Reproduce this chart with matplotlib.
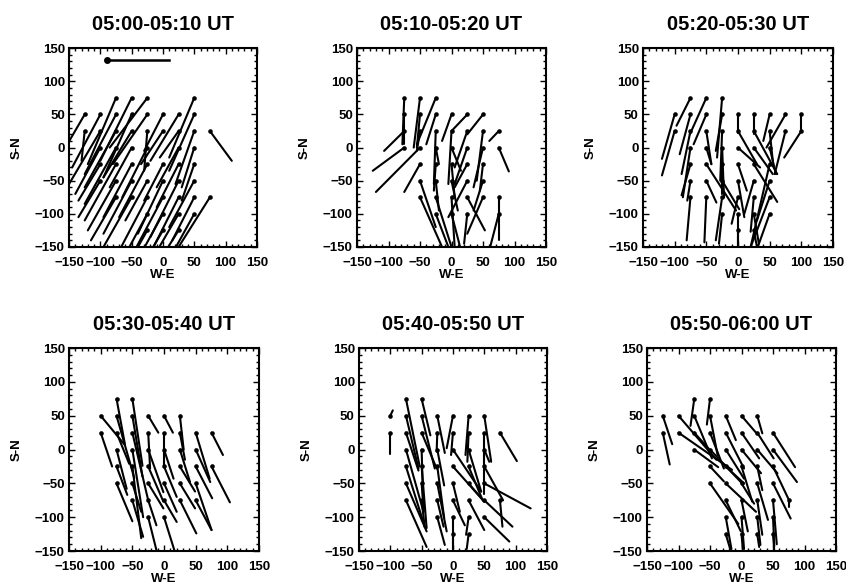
import numpy as np
import matplotlib
matplotlib.use('Agg')
import matplotlib.pyplot as plt
from matplotlib.ticker import MultipleLocator

plt.rcParams['font.family'] = ['Liberation Sans', 'DejaVu Sans']
plt.rcParams['font.weight'] = 'bold'

titles = ['05:00-05:10 UT', '05:10-05:20 UT', '05:20-05:30 UT',
          '05:30-05:40 UT', '05:40-05:50 UT', '05:50-06:00 UT']

# reference vector (start x, start y, u, v) in panel 1
ref_vec = (-90, 132, 100, 0)

# vectors: (x, y, u, v)
vec1 = [
    (-75, 75, -45, -100), (-50, 75, -50, -95), (-25, 75, -60, -75), (50, 75, -40, -90),
    (-125, 50, -40, -65), (-100, 50, -45, -80), (-75, 50, -50, -90), (-50, 50, -45, -95),
    (-25, 50, -55, -75), (0, 50, -30, -55), (25, 50, -45, -70), (50, 50, -40, -85),
    (-125, 25, -5, -45), (-100, 25, -50, -80), (-75, 25, -50, -85), (-50, 25, -45, -70),
    (-25, 25, -5, -60), (0, 25, -35, -50), (25, 25, -30, -40), (50, 25, -30, -80), (75, 25, 35, -45),
    (-100, 0, -40, -70), (-75, 0, -50, -85), (-50, 0, -35, -60), (-25, 0, -40, -75),
    (25, 0, -35, -60), (50, 0, -20, -60),
    (-100, -25, -35, -55), (-75, -25, -50, -85), (-50, -25, -45, -80), (-25, -25, -45, -80),
    (0, -25, -30, -55), (25, -25, -35, -65), (50, -25, -20, -55),
    (-100, -50, -35, -55), (-75, -50, -45, -75), (-50, -50, -45, -80), (-25, -50, -35, -60),
    (0, -50, -40, -80), (25, -50, -45, -85), (50, -50, -40, -70),
    (-75, -75, -40, -65), (-50, -75, -45, -75), (-25, -75, -50, -90), (0, -75, -45, -80),
    (25, -75, -40, -75), (50, -75, -35, -65), (75, -75, -50, -75),
    (-25, -100, -40, -70), (0, -100, -35, -60), (25, -100, -40, -65), (50, -100, -35, -60),
    (-25, -125, -30, -50), (0, -125, -25, -40), (25, -125, -30, -45),
]

vec2 = [
    (-75, 75, -3, -70), (-50, 75, -10, -75), (-25, 75, -30, -70),
    (-75, 50, 0, -45), (-50, 50, -5, -50), (-25, 50, -15, -45), (0, 50, -15, -40),
    (25, 50, -25, -25), (50, 50, -25, -30),
    (-75, 25, -32, -30), (-50, 25, -5, -30), (-25, 25, -3, -80), (0, 25, -5, -80),
    (25, 25, -20, -55), (50, 25, -10, -75), (75, 25, -15, -15),
    (-75, 0, -50, -35), (-50, 0, -70, -67), (-25, 0, 5, -25), (0, 0, 15, -35),
    (25, 0, -20, -55), (50, 0, -15, -60), (75, 0, 16, -36),
    (-50, -25, -25, -42), (-25, -25, -3, -40), (0, -25, 5, -50), (25, -25, -20, -35), (50, -25, -5, -40),
    (-50, -50, 25, -70), (-25, -50, 5, -45), (0, -50, 10, -45), (25, -50, -30, -55), (50, -50, -15, -45),
    (-50, -75, 35, -75), (-25, -75, 25, -75), (0, -75, 5, -75), (25, -75, 28, -50),
    (50, -75, -25, -55), (75, -75, 0, -65),
    (-25, -100, 20, -50), (0, -100, 15, -55), (25, -100, -5, -45), (75, -100, -15, -55),
]

vec3 = [
    (-75, 75, -22, -42), (-50, 75, -26, -55), (-25, 75, -8, -90),
    (-100, 50, -20, -67), (-75, 50, -17, -60), (-50, 50, -20, -45), (-25, 50, -10, -55),
    (0, 50, 0, -28), (25, 50, 0, -30), (50, 50, -10, -40), (75, 50, -30, -50), (100, 50, 0, -25),
    (-100, 25, -20, -67), (-75, 25, -14, -65), (-50, 25, 8, -50), (-25, 25, -3, -75),
    (0, 25, 30, -50), (25, 25, 37, -65), (50, 25, 5, -45), (75, 25, -17, -65), (100, 25, -27, -40),
    (-75, 0, -12, -75), (-50, 0, 8, -25), (-25, 0, 3, -75), (0, 0, 35, -30),
    (25, 0, 30, -40), (50, 0, 10, -40),
    (-75, -25, -14, -47), (-50, -25, 47, -70), (-25, -25, 0, -45), (0, -25, 14, -40),
    (25, -25, 37, -57), (50, -25, -30, -125),
    (-75, -50, -5, -30), (-50, -50, 16, -33), (-25, -50, 27, -43), (0, -50, 10, -55),
    (25, -50, -15, -50), (50, -50, -20, -60),
    (-75, -75, -6, -65), (-50, -75, -3, -68), (-25, -75, -10, -65), (0, -75, -10, -40),
    (25, -75, -5, -52), (50, -75, -30, -75),
    (-25, -100, -5, -45), (0, -100, 0, -50), (25, -100, 8, -45), (50, -100, -18, -48),
    (0, -125, 0, -25), (25, -125, 5, -25),
]

vec4 = [
    (-75, 75, 13, -66), (-50, 75, 16, -99),
    (-100, 50, 38, -43), (-75, 50, 28, -92), (-50, 50, 16, -90), (-25, 50, 16, -25),
    (0, 50, 14, -25), (25, 50, 6, -50),
    (-100, 25, 18, -50), (-75, 25, 20, -46), (-50, 25, 25, -100), (-25, 25, 3, -53),
    (0, 25, 0, -48), (25, 25, 8, -40), (50, 25, 22, -68), (75, 25, 18, -33),
    (-75, 0, 16, -58), (-50, 0, 17, -100), (-25, 0, 24, -63), (0, 0, 15, -43),
    (25, 0, 16, -48), (50, 0, 23, -48),
    (-75, -25, 17, -42), (-50, -25, 14, -106), (-25, -25, 24, -52), (0, -25, 20, -45),
    (25, -25, 24, -37), (50, -25, 26, -47), (75, -25, 29, -53),
    (-75, -50, 25, -56), (-50, -50, 14, -42), (-25, -50, 24, -37), (0, -50, 20, -42),
    (25, -50, 24, -37), (50, -50, 25, -69),
    (-50, -75, 17, -54), (-25, -75, 13, -37), (0, -75, 20, -32), (25, -75, 26, -49), (50, -75, 25, -44),
    (-25, -100, 16, -60), (0, -100, 20, -60),
]

vec5 = [
    (-100, 50, 4, 8), (-100, 25, 0, -31),
    (-75, 75, 22, -100), (-50, 75, 14, -54),
    (-75, 50, 20, -78), (-50, 50, 21, -78), (-25, 50, 12, -55), (0, 50, -10, -48),
    (25, 50, -5, -58), (50, 50, 11, -68),
    (-75, 25, 20, -56), (-50, 25, 24, -53), (-25, 25, -1, -28), (0, 25, -3, -33),
    (25, 25, -2, -43), (50, 25, 0, -90), (75, 25, 27, -42),
    (-75, 0, 28, -92), (-50, 0, 3, -92), (-25, 0, 11, -53), (0, 0, 45, -62),
    (25, 0, 20, -62), (50, 0, 8, -18),
    (-75, -25, 30, -89), (-50, -25, 8, -91), (-25, -25, 11, -76), (0, -25, 50, -52),
    (25, -25, 22, -49), (50, -25, 30, -50),
    (-75, -50, 33, -71), (-50, -50, 3, -37), (-25, -50, 15, -71), (0, -50, 11, -42),
    (25, -50, 25, -27), (50, -50, 74, -37),
    (-75, -75, 33, -69), (-50, -75, 5, -40), (-25, -75, 10, -39), (0, -75, 19, -37),
    (25, -75, 25, -44), (50, -75, 45, -39), (75, -75, 4, -39),
    (-25, -100, 12, -41), (0, -100, 0, -47), (25, -100, -4, -26), (50, -100, 40, -36),
    (0, -125, 0, -22), (25, -125, -3, -22),
]

vec6 = [
    (-75, 75, -6, -40), (-50, 75, -5, -38),
    (-125, 50, 15, -42), (-100, 50, 60, -65), (-75, 50, 28, -63), (-50, 50, 12, -58),
    (-25, 50, 16, -36), (0, 50, 23, -25), (25, 50, 8, -26),
    (-125, 25, 11, -47), (-100, 25, 85, -55), (-75, 25, 28, -29), (-50, 25, 22, -53),
    (-25, 25, 29, -53), (0, 25, 28, -38), (25, 25, 26, -38), (50, 25, 35, -51),
    (-75, 0, 38, -26), (-50, 0, 51, -50), (-25, 0, 29, -43), (0, 0, 31, -35),
    (25, 0, 32, -35), (50, 0, 38, -48),
    (-50, -25, 22, -22), (-25, -25, 29, -25), (0, -25, 17, -52), (25, -25, 8, -35), (50, -25, 25, -49),
    (-50, -50, 45, -60), (-25, -50, 48, -42), (0, -50, 20, -30), (25, -50, 17, -54), (50, -50, 28, -52),
    (-25, -75, 24, -46), (0, -75, 10, -46), (25, -75, 8, -51), (50, -75, 6, -65), (75, -75, 0, -10),
    (-25, -100, 9, -47), (0, -100, 4, -47), (25, -100, 5, -41), (50, -100, 2, -43),
    (-25, -125, 7, -22), (0, -125, 2, -22), (25, -125, 3, -19), (50, -125, 2, -25),
]

all_vecs = [vec1, vec2, vec3, vec4, vec5, vec6]

# axes positions in figure fraction [left, bottom, width, height]
positions = [
    [0.0816, 0.580, 0.222, 0.338],
    [0.422, 0.580, 0.2234, 0.338],
    [0.760, 0.580, 0.2246, 0.338],
    [0.0816, 0.0629, 0.2246, 0.345],
    [0.4243, 0.0629, 0.2222, 0.345],
    [0.7648, 0.0629, 0.2234, 0.345],
]

fig = plt.figure(figsize=(8.46, 5.88), dpi=100)

for i in range(6):
    ax = fig.add_axes(positions[i])
    arr = np.array(all_vecs[i], dtype=float)
    x, y, u, v = arr[:, 0], arr[:, 1], arr[:, 2], arr[:, 3]
    for k in range(len(x)):
        ax.plot([x[k], x[k] + u[k]], [y[k], y[k] + v[k]], color='black', lw=1.5,
                solid_capstyle='round')
    ax.plot(x, y, 'o', color='black', ms=3.3, mew=0)
    if i == 0:
        rx, ry, ru, rv = ref_vec
        ax.plot([rx, rx + ru], [ry, ry + rv], color='black', lw=1.8)
        ax.plot(rx, ry, 'o', color='black', ms=5, mew=0)

    ax.set_xlim(-150, 150)
    ax.set_ylim(-150, 150)
    ax.xaxis.set_major_locator(MultipleLocator(50))
    ax.yaxis.set_major_locator(MultipleLocator(50))
    ax.xaxis.set_minor_locator(MultipleLocator(10))
    ax.yaxis.set_minor_locator(MultipleLocator(10))
    ax.tick_params(which='both', direction='in', top=True, right=True,
                   width=1.0, labelsize=9.5)
    ax.tick_params(axis='x', pad=7)
    ax.tick_params(axis='y', pad=3)
    ax.tick_params(which='major', length=4.5)
    ax.tick_params(which='minor', length=2)
    for sp in ax.spines.values():
        sp.set_linewidth(1.5)
    for lab in ax.get_xticklabels() + ax.get_yticklabels():
        lab.set_fontweight('bold')
    ax.set_xlabel('W-E', fontsize=9.5, fontweight='bold', labelpad=0)
    ax.set_ylabel('S-N', fontsize=9.5, fontweight='bold', labelpad=9)
    ax.set_title(titles[i], fontsize=14.5, fontweight='bold', pad=13)

fig.savefig('out.png', dpi=100)
